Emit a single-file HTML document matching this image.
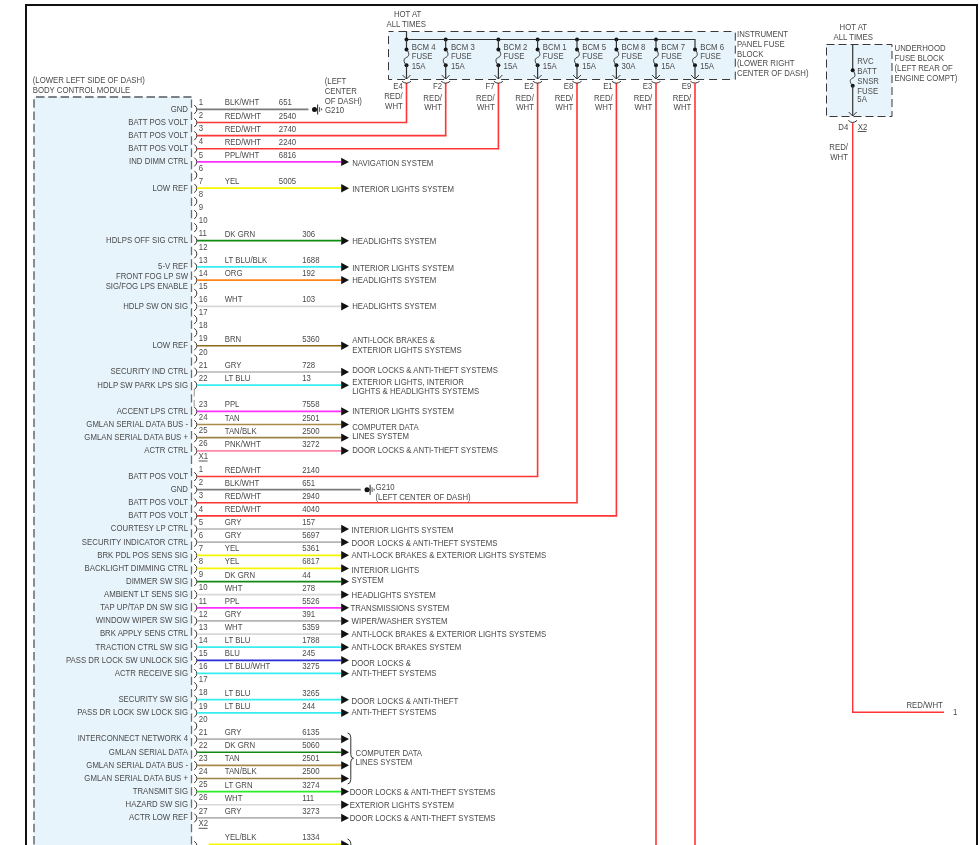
<!DOCTYPE html>
<html><head><meta charset="utf-8"><style>
html,body{margin:0;padding:0;background:#fff;}
body{width:980px;height:845px;overflow:hidden;}
svg{display:block;font-family:"Liberation Sans",sans-serif;will-change:transform;}
</style></head><body>
<svg width="980" height="845" viewBox="0 0 980 845">
<rect x="26" y="5" width="951" height="900" fill="none" stroke="#111" stroke-width="2"/>
<rect x="34" y="97" width="157.5" height="800" fill="#e8f4fc" stroke="none"/>
<line x1="36.00" y1="97.00" x2="191.50" y2="97.00" stroke="#7c8288" stroke-width="1.8" stroke-dasharray="8.5 3.78"/>
<line x1="34.00" y1="99.30" x2="34.00" y2="900.00" stroke="#7c8288" stroke-width="1.8" stroke-dasharray="8.5 3.78"/>
<line x1="191.50" y1="99.50" x2="191.50" y2="900.00" stroke="#6a6e72" stroke-width="1.3" stroke-dasharray="8.3 3.98"/>
<text transform="translate(32.70,83.29) scale(0.951219512195122,1)" fill="#4a4a4a" font-size="8.2">(LOWER LEFT SIDE OF DASH)</text>
<text transform="translate(32.70,92.79) scale(0.951219512195122,1)" fill="#4a4a4a" font-size="8.2">BODY CONTROL MODULE</text>
<path d="M194.3,105.10 Q197.3,107.60 196.8,109.40 Q197.3,111.20 194.3,113.90" stroke="#333" stroke-width="1.0" fill="none"/>
<text transform="translate(198.80,105.10) scale(0.951219512195122,1)" fill="#4a4a4a" font-size="8.2">1</text>
<text transform="translate(188.00,111.79) scale(0.951219512195122,1)" text-anchor="end" fill="#4a4a4a" font-size="8.2">GND</text>
<text transform="translate(224.70,105.40) scale(0.951219512195122,1)" fill="#4a4a4a" font-size="8.2">BLK/WHT</text>
<text transform="translate(278.80,105.40) scale(0.951219512195122,1)" fill="#4a4a4a" font-size="8.2">651</text>
<line x1="196.90" y1="109.40" x2="308.40" y2="109.40" stroke="#7a7a7a" stroke-width="1.6"/>
<circle cx="314.50" cy="109.40" r="2.5" fill="#111"/>
<line x1="314.50" y1="109.40" x2="317.60" y2="109.40" stroke="#222" stroke-width="1.0"/>
<line x1="317.60" y1="104.40" x2="317.60" y2="114.40" stroke="#333" stroke-width="1.1"/>
<line x1="319.60" y1="107.00" x2="319.60" y2="111.80" stroke="#444" stroke-width="0.9"/>
<line x1="321.60" y1="108.50" x2="321.60" y2="110.30" stroke="#444" stroke-width="1.1"/>
<path d="M194.3,118.23 Q197.3,120.73 196.8,122.53 Q197.3,124.33 194.3,127.03" stroke="#333" stroke-width="1.0" fill="none"/>
<text transform="translate(198.80,118.23) scale(0.951219512195122,1)" fill="#4a4a4a" font-size="8.2">2</text>
<text transform="translate(188.00,124.92) scale(0.951219512195122,1)" text-anchor="end" fill="#4a4a4a" font-size="8.2">BATT POS VOLT</text>
<text transform="translate(224.70,118.53) scale(0.951219512195122,1)" fill="#4a4a4a" font-size="8.2">RED/WHT</text>
<text transform="translate(278.80,118.53) scale(0.951219512195122,1)" fill="#4a4a4a" font-size="8.2">2540</text>
<path d="M196.9,122.53 L406.50,122.53 L406.50,83" stroke="#ff3535" stroke-width="1.6" fill="none"/>
<path d="M194.3,131.36 Q197.3,133.86 196.8,135.66 Q197.3,137.46 194.3,140.16" stroke="#333" stroke-width="1.0" fill="none"/>
<text transform="translate(198.80,131.36) scale(0.951219512195122,1)" fill="#4a4a4a" font-size="8.2">3</text>
<text transform="translate(188.00,138.05) scale(0.951219512195122,1)" text-anchor="end" fill="#4a4a4a" font-size="8.2">BATT POS VOLT</text>
<text transform="translate(224.70,131.66) scale(0.951219512195122,1)" fill="#4a4a4a" font-size="8.2">RED/WHT</text>
<text transform="translate(278.80,131.66) scale(0.951219512195122,1)" fill="#4a4a4a" font-size="8.2">2740</text>
<path d="M196.9,135.66 L445.70,135.66 L445.70,83" stroke="#ff3535" stroke-width="1.6" fill="none"/>
<path d="M194.3,144.49 Q197.3,146.99 196.8,148.79 Q197.3,150.59 194.3,153.29" stroke="#333" stroke-width="1.0" fill="none"/>
<text transform="translate(198.80,144.49) scale(0.951219512195122,1)" fill="#4a4a4a" font-size="8.2">4</text>
<text transform="translate(188.00,151.18) scale(0.951219512195122,1)" text-anchor="end" fill="#4a4a4a" font-size="8.2">BATT POS VOLT</text>
<text transform="translate(224.70,144.79) scale(0.951219512195122,1)" fill="#4a4a4a" font-size="8.2">RED/WHT</text>
<text transform="translate(278.80,144.79) scale(0.951219512195122,1)" fill="#4a4a4a" font-size="8.2">2240</text>
<path d="M196.9,148.79 L498.40,148.79 L498.40,83" stroke="#ff3535" stroke-width="1.6" fill="none"/>
<path d="M194.3,157.62 Q197.3,160.12 196.8,161.92 Q197.3,163.72 194.3,166.42" stroke="#333" stroke-width="1.0" fill="none"/>
<text transform="translate(198.80,157.62) scale(0.951219512195122,1)" fill="#4a4a4a" font-size="8.2">5</text>
<text transform="translate(188.00,164.31) scale(0.951219512195122,1)" text-anchor="end" fill="#4a4a4a" font-size="8.2">IND DIMM CTRL</text>
<text transform="translate(224.70,157.92) scale(0.951219512195122,1)" fill="#4a4a4a" font-size="8.2">PPL/WHT</text>
<text transform="translate(278.80,157.92) scale(0.951219512195122,1)" fill="#4a4a4a" font-size="8.2">6816</text>
<line x1="196.90" y1="161.92" x2="341.20" y2="161.92" stroke="#ff30ff" stroke-width="1.7"/>
<path d="M341.20,157.72 L349.00,161.92 L341.20,166.12 Z" fill="#111"/>
<path d="M194.3,170.75 Q197.3,173.25 196.8,175.05 Q197.3,176.85 194.3,179.55" stroke="#333" stroke-width="1.0" fill="none"/>
<text transform="translate(198.80,170.75) scale(0.951219512195122,1)" fill="#4a4a4a" font-size="8.2">6</text>
<path d="M194.3,183.88 Q197.3,186.38 196.8,188.18 Q197.3,189.98 194.3,192.68" stroke="#333" stroke-width="1.0" fill="none"/>
<text transform="translate(198.80,183.88) scale(0.951219512195122,1)" fill="#4a4a4a" font-size="8.2">7</text>
<text transform="translate(188.00,190.57) scale(0.951219512195122,1)" text-anchor="end" fill="#4a4a4a" font-size="8.2">LOW REF</text>
<text transform="translate(224.70,184.18) scale(0.951219512195122,1)" fill="#4a4a4a" font-size="8.2">YEL</text>
<text transform="translate(278.80,184.18) scale(0.951219512195122,1)" fill="#4a4a4a" font-size="8.2">5005</text>
<line x1="196.90" y1="188.18" x2="341.20" y2="188.18" stroke="#f6f600" stroke-width="1.7"/>
<path d="M341.20,183.98 L349.00,188.18 L341.20,192.38 Z" fill="#111"/>
<path d="M194.3,197.01 Q197.3,199.51 196.8,201.31 Q197.3,203.11 194.3,205.81" stroke="#333" stroke-width="1.0" fill="none"/>
<text transform="translate(198.80,197.01) scale(0.951219512195122,1)" fill="#4a4a4a" font-size="8.2">8</text>
<path d="M194.3,210.14 Q197.3,212.64 196.8,214.44 Q197.3,216.24 194.3,218.94" stroke="#333" stroke-width="1.0" fill="none"/>
<text transform="translate(198.80,210.14) scale(0.951219512195122,1)" fill="#4a4a4a" font-size="8.2">9</text>
<path d="M194.3,223.27 Q197.3,225.77 196.8,227.57 Q197.3,229.37 194.3,232.07" stroke="#333" stroke-width="1.0" fill="none"/>
<text transform="translate(198.80,223.27) scale(0.951219512195122,1)" fill="#4a4a4a" font-size="8.2">10</text>
<path d="M194.3,236.40 Q197.3,238.90 196.8,240.70 Q197.3,242.50 194.3,245.20" stroke="#333" stroke-width="1.0" fill="none"/>
<text transform="translate(198.80,236.40) scale(0.951219512195122,1)" fill="#4a4a4a" font-size="8.2">11</text>
<text transform="translate(188.00,243.09) scale(0.951219512195122,1)" text-anchor="end" fill="#4a4a4a" font-size="8.2">HDLPS OFF SIG CTRL</text>
<text transform="translate(224.70,236.70) scale(0.951219512195122,1)" fill="#4a4a4a" font-size="8.2">DK GRN</text>
<text transform="translate(302.20,236.70) scale(0.951219512195122,1)" fill="#4a4a4a" font-size="8.2">306</text>
<line x1="196.90" y1="240.70" x2="341.20" y2="240.70" stroke="#108a10" stroke-width="1.7"/>
<path d="M341.20,236.50 L349.00,240.70 L341.20,244.90 Z" fill="#111"/>
<path d="M194.3,249.53 Q197.3,252.03 196.8,253.83 Q197.3,255.63 194.3,258.33" stroke="#333" stroke-width="1.0" fill="none"/>
<text transform="translate(198.80,249.53) scale(0.951219512195122,1)" fill="#4a4a4a" font-size="8.2">12</text>
<path d="M194.3,262.66 Q197.3,265.16 196.8,266.96 Q197.3,268.76 194.3,271.46" stroke="#333" stroke-width="1.0" fill="none"/>
<text transform="translate(198.80,262.66) scale(0.951219512195122,1)" fill="#4a4a4a" font-size="8.2">13</text>
<text transform="translate(188.00,269.35) scale(0.951219512195122,1)" text-anchor="end" fill="#4a4a4a" font-size="8.2">5-V REF</text>
<text transform="translate(224.70,262.96) scale(0.951219512195122,1)" fill="#4a4a4a" font-size="8.2">LT BLU/BLK</text>
<text transform="translate(302.20,262.96) scale(0.951219512195122,1)" fill="#4a4a4a" font-size="8.2">1688</text>
<line x1="196.90" y1="266.96" x2="341.20" y2="266.96" stroke="#36eef2" stroke-width="1.7"/>
<path d="M341.20,262.76 L349.00,266.96 L341.20,271.16 Z" fill="#111"/>
<path d="M194.3,275.79 Q197.3,278.29 196.8,280.09 Q197.3,281.89 194.3,284.59" stroke="#333" stroke-width="1.0" fill="none"/>
<text transform="translate(198.80,275.79) scale(0.951219512195122,1)" fill="#4a4a4a" font-size="8.2">14</text>
<text transform="translate(224.70,276.09) scale(0.951219512195122,1)" fill="#4a4a4a" font-size="8.2">ORG</text>
<text transform="translate(302.20,276.09) scale(0.951219512195122,1)" fill="#4a4a4a" font-size="8.2">192</text>
<line x1="196.90" y1="280.09" x2="341.20" y2="280.09" stroke="#ff8418" stroke-width="1.7"/>
<path d="M341.20,275.89 L349.00,280.09 L341.20,284.29 Z" fill="#111"/>
<path d="M194.3,288.92 Q197.3,291.42 196.8,293.22 Q197.3,295.02 194.3,297.72" stroke="#333" stroke-width="1.0" fill="none"/>
<text transform="translate(198.80,288.92) scale(0.951219512195122,1)" fill="#4a4a4a" font-size="8.2">15</text>
<path d="M194.3,302.05 Q197.3,304.55 196.8,306.35 Q197.3,308.15 194.3,310.85" stroke="#333" stroke-width="1.0" fill="none"/>
<text transform="translate(198.80,302.05) scale(0.951219512195122,1)" fill="#4a4a4a" font-size="8.2">16</text>
<text transform="translate(188.00,308.74) scale(0.951219512195122,1)" text-anchor="end" fill="#4a4a4a" font-size="8.2">HDLP SW ON SIG</text>
<text transform="translate(224.70,302.35) scale(0.951219512195122,1)" fill="#4a4a4a" font-size="8.2">WHT</text>
<text transform="translate(302.20,302.35) scale(0.951219512195122,1)" fill="#4a4a4a" font-size="8.2">103</text>
<line x1="196.90" y1="306.35" x2="341.20" y2="306.35" stroke="#d8d8d8" stroke-width="1.7"/>
<path d="M341.20,302.15 L349.00,306.35 L341.20,310.55 Z" fill="#111"/>
<path d="M194.3,315.18 Q197.3,317.68 196.8,319.48 Q197.3,321.28 194.3,323.98" stroke="#333" stroke-width="1.0" fill="none"/>
<text transform="translate(198.80,315.18) scale(0.951219512195122,1)" fill="#4a4a4a" font-size="8.2">17</text>
<path d="M194.3,328.31 Q197.3,330.81 196.8,332.61 Q197.3,334.41 194.3,337.11" stroke="#333" stroke-width="1.0" fill="none"/>
<text transform="translate(198.80,328.31) scale(0.951219512195122,1)" fill="#4a4a4a" font-size="8.2">18</text>
<path d="M194.3,341.44 Q197.3,343.94 196.8,345.74 Q197.3,347.54 194.3,350.24" stroke="#333" stroke-width="1.0" fill="none"/>
<text transform="translate(198.80,341.44) scale(0.951219512195122,1)" fill="#4a4a4a" font-size="8.2">19</text>
<text transform="translate(188.00,348.13) scale(0.951219512195122,1)" text-anchor="end" fill="#4a4a4a" font-size="8.2">LOW REF</text>
<text transform="translate(224.70,341.74) scale(0.951219512195122,1)" fill="#4a4a4a" font-size="8.2">BRN</text>
<text transform="translate(302.20,341.74) scale(0.951219512195122,1)" fill="#4a4a4a" font-size="8.2">5360</text>
<line x1="196.90" y1="345.74" x2="341.20" y2="345.74" stroke="#8a6a1a" stroke-width="1.7"/>
<path d="M341.20,341.54 L349.00,345.74 L341.20,349.94 Z" fill="#111"/>
<path d="M194.3,354.57 Q197.3,357.07 196.8,358.87 Q197.3,360.67 194.3,363.37" stroke="#333" stroke-width="1.0" fill="none"/>
<text transform="translate(198.80,354.57) scale(0.951219512195122,1)" fill="#4a4a4a" font-size="8.2">20</text>
<path d="M194.3,367.70 Q197.3,370.20 196.8,372.00 Q197.3,373.80 194.3,376.50" stroke="#333" stroke-width="1.0" fill="none"/>
<text transform="translate(198.80,367.70) scale(0.951219512195122,1)" fill="#4a4a4a" font-size="8.2">21</text>
<text transform="translate(188.00,374.39) scale(0.951219512195122,1)" text-anchor="end" fill="#4a4a4a" font-size="8.2">SECURITY IND CTRL</text>
<text transform="translate(224.70,368.00) scale(0.951219512195122,1)" fill="#4a4a4a" font-size="8.2">GRY</text>
<text transform="translate(302.20,368.00) scale(0.951219512195122,1)" fill="#4a4a4a" font-size="8.2">728</text>
<line x1="196.90" y1="372.00" x2="341.20" y2="372.00" stroke="#b4b4b4" stroke-width="1.7"/>
<path d="M341.20,367.80 L349.00,372.00 L341.20,376.20 Z" fill="#111"/>
<path d="M194.3,380.83 Q197.3,383.33 196.8,385.13 Q197.3,386.93 194.3,389.63" stroke="#333" stroke-width="1.0" fill="none"/>
<text transform="translate(198.80,380.83) scale(0.951219512195122,1)" fill="#4a4a4a" font-size="8.2">22</text>
<text transform="translate(188.00,387.52) scale(0.951219512195122,1)" text-anchor="end" fill="#4a4a4a" font-size="8.2">HDLP SW PARK LPS SIG</text>
<text transform="translate(224.70,381.13) scale(0.951219512195122,1)" fill="#4a4a4a" font-size="8.2">LT BLU</text>
<text transform="translate(302.20,381.13) scale(0.951219512195122,1)" fill="#4a4a4a" font-size="8.2">13</text>
<line x1="196.90" y1="385.13" x2="341.20" y2="385.13" stroke="#36eef2" stroke-width="1.7"/>
<path d="M341.20,380.93 L349.00,385.13 L341.20,389.33 Z" fill="#111"/>
<path d="M194.3,407.09 Q197.3,409.59 196.8,411.39 Q197.3,413.19 194.3,415.89" stroke="#333" stroke-width="1.0" fill="none"/>
<text transform="translate(198.80,407.09) scale(0.951219512195122,1)" fill="#4a4a4a" font-size="8.2">23</text>
<text transform="translate(188.00,413.78) scale(0.951219512195122,1)" text-anchor="end" fill="#4a4a4a" font-size="8.2">ACCENT LPS CTRL</text>
<text transform="translate(224.70,407.39) scale(0.951219512195122,1)" fill="#4a4a4a" font-size="8.2">PPL</text>
<text transform="translate(302.20,407.39) scale(0.951219512195122,1)" fill="#4a4a4a" font-size="8.2">7558</text>
<line x1="196.90" y1="411.39" x2="341.20" y2="411.39" stroke="#ff30ff" stroke-width="1.7"/>
<path d="M341.20,407.19 L349.00,411.39 L341.20,415.59 Z" fill="#111"/>
<path d="M194.3,420.22 Q197.3,422.72 196.8,424.52 Q197.3,426.32 194.3,429.02" stroke="#333" stroke-width="1.0" fill="none"/>
<text transform="translate(198.80,420.22) scale(0.951219512195122,1)" fill="#4a4a4a" font-size="8.2">24</text>
<text transform="translate(188.00,426.91) scale(0.951219512195122,1)" text-anchor="end" fill="#4a4a4a" font-size="8.2">GMLAN SERIAL DATA BUS -</text>
<text transform="translate(224.70,420.52) scale(0.951219512195122,1)" fill="#4a4a4a" font-size="8.2">TAN</text>
<text transform="translate(302.20,420.52) scale(0.951219512195122,1)" fill="#4a4a4a" font-size="8.2">2501</text>
<line x1="196.90" y1="424.52" x2="341.20" y2="424.52" stroke="#a88a4a" stroke-width="1.7"/>
<path d="M341.20,420.32 L349.00,424.52 L341.20,428.72 Z" fill="#111"/>
<path d="M194.3,433.35 Q197.3,435.85 196.8,437.65 Q197.3,439.45 194.3,442.15" stroke="#333" stroke-width="1.0" fill="none"/>
<text transform="translate(198.80,433.35) scale(0.951219512195122,1)" fill="#4a4a4a" font-size="8.2">25</text>
<text transform="translate(188.00,440.04) scale(0.951219512195122,1)" text-anchor="end" fill="#4a4a4a" font-size="8.2">GMLAN SERIAL DATA BUS +</text>
<text transform="translate(224.70,433.65) scale(0.951219512195122,1)" fill="#4a4a4a" font-size="8.2">TAN/BLK</text>
<text transform="translate(302.20,433.65) scale(0.951219512195122,1)" fill="#4a4a4a" font-size="8.2">2500</text>
<line x1="196.90" y1="437.65" x2="341.20" y2="437.65" stroke="#9c8248" stroke-width="1.7"/>
<path d="M341.20,433.45 L349.00,437.65 L341.20,441.85 Z" fill="#111"/>
<path d="M194.3,446.48 Q197.3,448.98 196.8,450.78 Q197.3,452.58 194.3,455.28" stroke="#333" stroke-width="1.0" fill="none"/>
<text transform="translate(198.80,446.48) scale(0.951219512195122,1)" fill="#4a4a4a" font-size="8.2">26</text>
<text transform="translate(188.00,453.17) scale(0.951219512195122,1)" text-anchor="end" fill="#4a4a4a" font-size="8.2">ACTR CTRL</text>
<text transform="translate(224.70,446.78) scale(0.951219512195122,1)" fill="#4a4a4a" font-size="8.2">PNK/WHT</text>
<text transform="translate(302.20,446.78) scale(0.951219512195122,1)" fill="#4a4a4a" font-size="8.2">3272</text>
<line x1="196.90" y1="450.78" x2="341.20" y2="450.78" stroke="#ff8aa8" stroke-width="1.7"/>
<path d="M341.20,446.58 L349.00,450.78 L341.20,454.98 Z" fill="#111"/>
<text transform="translate(188.00,278.69) scale(0.951219512195122,1)" text-anchor="end" fill="#4a4a4a" font-size="8.2">FRONT FOG LP SW</text>
<text transform="translate(188.00,288.89) scale(0.951219512195122,1)" text-anchor="end" fill="#4a4a4a" font-size="8.2">SIG/FOG LPS ENABLE</text>
<line x1="194.20" y1="389.73" x2="194.20" y2="396.63" stroke="#666" stroke-width="0.7"/>
<line x1="194.20" y1="399.89" x2="194.20" y2="406.79" stroke="#666" stroke-width="0.7"/>
<text transform="translate(198.60,459.09) scale(0.951219512195122,1)" fill="#4a4a4a" font-size="8.2">X1</text>
<line x1="198.60" y1="461.00" x2="207.60" y2="461.00" stroke="#444" stroke-width="0.9"/>
<text transform="translate(352.20,166.01) scale(0.951219512195122,1)" fill="#4a4a4a" font-size="8.2">NAVIGATION SYSTEM</text>
<text transform="translate(352.20,191.87) scale(0.951219512195122,1)" fill="#4a4a4a" font-size="8.2">INTERIOR LIGHTS SYSTEM</text>
<text transform="translate(352.20,243.69) scale(0.951219512195122,1)" fill="#4a4a4a" font-size="8.2">HEADLIGHTS SYSTEM</text>
<text transform="translate(352.20,271.09) scale(0.951219512195122,1)" fill="#4a4a4a" font-size="8.2">INTERIOR LIGHTS SYSTEM</text>
<text transform="translate(352.20,282.89) scale(0.951219512195122,1)" fill="#4a4a4a" font-size="8.2">HEADLIGHTS SYSTEM</text>
<text transform="translate(352.20,308.79) scale(0.951219512195122,1)" fill="#4a4a4a" font-size="8.2">HEADLIGHTS SYSTEM</text>
<text transform="translate(352.20,343.19) scale(0.951219512195122,1)" fill="#4a4a4a" font-size="8.2">ANTI-LOCK BRAKES &amp;</text>
<text transform="translate(352.20,353.29) scale(0.951219512195122,1)" fill="#4a4a4a" font-size="8.2">EXTERIOR LIGHTS SYSTEMS</text>
<text transform="translate(352.20,373.49) scale(0.951219512195122,1)" fill="#4a4a4a" font-size="8.2">DOOR LOCKS &amp; ANTI-THEFT SYSTEMS</text>
<text transform="translate(352.20,384.59) scale(0.951219512195122,1)" fill="#4a4a4a" font-size="8.2">EXTERIOR LIGHTS, INTERIOR</text>
<text transform="translate(352.20,393.99) scale(0.951219512195122,1)" fill="#4a4a4a" font-size="8.2">LIGHTS &amp; HEADLIGHTS SYSTEMS</text>
<text transform="translate(352.20,413.89) scale(0.951219512195122,1)" fill="#4a4a4a" font-size="8.2">INTERIOR LIGHTS SYSTEM</text>
<text transform="translate(352.20,429.99) scale(0.951219512195122,1)" fill="#4a4a4a" font-size="8.2">COMPUTER DATA</text>
<text transform="translate(352.20,439.09) scale(0.951219512195122,1)" fill="#4a4a4a" font-size="8.2">LINES SYSTEM</text>
<text transform="translate(352.20,452.89) scale(0.951219512195122,1)" fill="#4a4a4a" font-size="8.2">DOOR LOCKS &amp; ANTI-THEFT SYSTEMS</text>
<text transform="translate(325.00,112.99) scale(0.951219512195122,1)" fill="#4a4a4a" font-size="8.2">G210</text>
<text transform="translate(324.70,84.39) scale(0.951219512195122,1)" fill="#4a4a4a" font-size="8.2">(LEFT</text>
<text transform="translate(324.70,94.39) scale(0.951219512195122,1)" fill="#4a4a4a" font-size="8.2">CENTER</text>
<text transform="translate(324.70,104.39) scale(0.951219512195122,1)" fill="#4a4a4a" font-size="8.2">OF DASH)</text>
<path d="M194.3,472.20 Q197.3,474.70 196.8,476.50 Q197.3,478.30 194.3,481.00" stroke="#333" stroke-width="1.0" fill="none"/>
<text transform="translate(198.80,472.20) scale(0.951219512195122,1)" fill="#4a4a4a" font-size="8.2">1</text>
<text transform="translate(188.00,478.89) scale(0.951219512195122,1)" text-anchor="end" fill="#4a4a4a" font-size="8.2">BATT POS VOLT</text>
<text transform="translate(224.70,472.50) scale(0.951219512195122,1)" fill="#4a4a4a" font-size="8.2">RED/WHT</text>
<text transform="translate(302.20,472.50) scale(0.951219512195122,1)" fill="#4a4a4a" font-size="8.2">2140</text>
<path d="M196.9,476.50 L537.60,476.50 L537.60,83" stroke="#ff3535" stroke-width="1.6" fill="none"/>
<path d="M194.3,485.33 Q197.3,487.83 196.8,489.63 Q197.3,491.43 194.3,494.13" stroke="#333" stroke-width="1.0" fill="none"/>
<text transform="translate(198.80,485.33) scale(0.951219512195122,1)" fill="#4a4a4a" font-size="8.2">2</text>
<text transform="translate(188.00,492.02) scale(0.951219512195122,1)" text-anchor="end" fill="#4a4a4a" font-size="8.2">GND</text>
<text transform="translate(224.70,485.63) scale(0.951219512195122,1)" fill="#4a4a4a" font-size="8.2">BLK/WHT</text>
<text transform="translate(302.20,485.63) scale(0.951219512195122,1)" fill="#4a4a4a" font-size="8.2">651</text>
<line x1="196.90" y1="489.63" x2="360.80" y2="489.63" stroke="#7a7a7a" stroke-width="1.6"/>
<circle cx="367.00" cy="489.63" r="2.5" fill="#111"/>
<line x1="367.00" y1="489.63" x2="370.10" y2="489.63" stroke="#222" stroke-width="1.0"/>
<line x1="370.10" y1="484.63" x2="370.10" y2="494.63" stroke="#333" stroke-width="1.1"/>
<line x1="372.10" y1="487.23" x2="372.10" y2="492.03" stroke="#444" stroke-width="0.9"/>
<line x1="374.10" y1="488.73" x2="374.10" y2="490.53" stroke="#444" stroke-width="1.1"/>
<path d="M194.3,498.46 Q197.3,500.96 196.8,502.76 Q197.3,504.56 194.3,507.26" stroke="#333" stroke-width="1.0" fill="none"/>
<text transform="translate(198.80,498.46) scale(0.951219512195122,1)" fill="#4a4a4a" font-size="8.2">3</text>
<text transform="translate(188.00,505.15) scale(0.951219512195122,1)" text-anchor="end" fill="#4a4a4a" font-size="8.2">BATT POS VOLT</text>
<text transform="translate(224.70,498.76) scale(0.951219512195122,1)" fill="#4a4a4a" font-size="8.2">RED/WHT</text>
<text transform="translate(302.20,498.76) scale(0.951219512195122,1)" fill="#4a4a4a" font-size="8.2">2940</text>
<path d="M196.9,502.76 L577.00,502.76 L577.00,83" stroke="#ff3535" stroke-width="1.6" fill="none"/>
<path d="M194.3,511.59 Q197.3,514.09 196.8,515.89 Q197.3,517.69 194.3,520.39" stroke="#333" stroke-width="1.0" fill="none"/>
<text transform="translate(198.80,511.59) scale(0.951219512195122,1)" fill="#4a4a4a" font-size="8.2">4</text>
<text transform="translate(188.00,518.28) scale(0.951219512195122,1)" text-anchor="end" fill="#4a4a4a" font-size="8.2">BATT POS VOLT</text>
<text transform="translate(224.70,511.89) scale(0.951219512195122,1)" fill="#4a4a4a" font-size="8.2">RED/WHT</text>
<text transform="translate(302.20,511.89) scale(0.951219512195122,1)" fill="#4a4a4a" font-size="8.2">4040</text>
<path d="M196.9,515.89 L616.40,515.89 L616.40,83" stroke="#ff3535" stroke-width="1.6" fill="none"/>
<path d="M194.3,524.72 Q197.3,527.22 196.8,529.02 Q197.3,530.82 194.3,533.52" stroke="#333" stroke-width="1.0" fill="none"/>
<text transform="translate(198.80,524.72) scale(0.951219512195122,1)" fill="#4a4a4a" font-size="8.2">5</text>
<text transform="translate(188.00,531.41) scale(0.951219512195122,1)" text-anchor="end" fill="#4a4a4a" font-size="8.2">COURTESY LP CTRL</text>
<text transform="translate(224.70,525.02) scale(0.951219512195122,1)" fill="#4a4a4a" font-size="8.2">GRY</text>
<text transform="translate(302.20,525.02) scale(0.951219512195122,1)" fill="#4a4a4a" font-size="8.2">157</text>
<line x1="196.90" y1="529.02" x2="341.20" y2="529.02" stroke="#b4b4b4" stroke-width="1.7"/>
<path d="M341.20,524.82 L349.00,529.02 L341.20,533.22 Z" fill="#111"/>
<path d="M194.3,537.85 Q197.3,540.35 196.8,542.15 Q197.3,543.95 194.3,546.65" stroke="#333" stroke-width="1.0" fill="none"/>
<text transform="translate(198.80,537.85) scale(0.951219512195122,1)" fill="#4a4a4a" font-size="8.2">6</text>
<text transform="translate(188.00,544.54) scale(0.951219512195122,1)" text-anchor="end" fill="#4a4a4a" font-size="8.2">SECURITY INDICATOR CTRL</text>
<text transform="translate(224.70,538.15) scale(0.951219512195122,1)" fill="#4a4a4a" font-size="8.2">GRY</text>
<text transform="translate(302.20,538.15) scale(0.951219512195122,1)" fill="#4a4a4a" font-size="8.2">5697</text>
<line x1="196.90" y1="542.15" x2="341.20" y2="542.15" stroke="#b4b4b4" stroke-width="1.7"/>
<path d="M341.20,537.95 L349.00,542.15 L341.20,546.35 Z" fill="#111"/>
<path d="M194.3,550.98 Q197.3,553.48 196.8,555.28 Q197.3,557.08 194.3,559.78" stroke="#333" stroke-width="1.0" fill="none"/>
<text transform="translate(198.80,550.98) scale(0.951219512195122,1)" fill="#4a4a4a" font-size="8.2">7</text>
<text transform="translate(188.00,557.67) scale(0.951219512195122,1)" text-anchor="end" fill="#4a4a4a" font-size="8.2">BRK PDL POS SENS SIG</text>
<text transform="translate(224.70,551.28) scale(0.951219512195122,1)" fill="#4a4a4a" font-size="8.2">YEL</text>
<text transform="translate(302.20,551.28) scale(0.951219512195122,1)" fill="#4a4a4a" font-size="8.2">5361</text>
<line x1="196.90" y1="555.28" x2="341.20" y2="555.28" stroke="#f6f600" stroke-width="1.7"/>
<path d="M341.20,551.08 L349.00,555.28 L341.20,559.48 Z" fill="#111"/>
<path d="M194.3,564.11 Q197.3,566.61 196.8,568.41 Q197.3,570.21 194.3,572.91" stroke="#333" stroke-width="1.0" fill="none"/>
<text transform="translate(198.80,564.11) scale(0.951219512195122,1)" fill="#4a4a4a" font-size="8.2">8</text>
<text transform="translate(188.00,570.80) scale(0.951219512195122,1)" text-anchor="end" fill="#4a4a4a" font-size="8.2">BACKLIGHT DIMMING CTRL</text>
<text transform="translate(224.70,564.41) scale(0.951219512195122,1)" fill="#4a4a4a" font-size="8.2">YEL</text>
<text transform="translate(302.20,564.41) scale(0.951219512195122,1)" fill="#4a4a4a" font-size="8.2">6817</text>
<line x1="196.90" y1="568.41" x2="341.20" y2="568.41" stroke="#f6f600" stroke-width="1.7"/>
<path d="M341.20,564.21 L349.00,568.41 L341.20,572.61 Z" fill="#111"/>
<path d="M194.3,577.24 Q197.3,579.74 196.8,581.54 Q197.3,583.34 194.3,586.04" stroke="#333" stroke-width="1.0" fill="none"/>
<text transform="translate(198.80,577.24) scale(0.951219512195122,1)" fill="#4a4a4a" font-size="8.2">9</text>
<text transform="translate(188.00,583.93) scale(0.951219512195122,1)" text-anchor="end" fill="#4a4a4a" font-size="8.2">DIMMER SW SIG</text>
<text transform="translate(224.70,577.54) scale(0.951219512195122,1)" fill="#4a4a4a" font-size="8.2">DK GRN</text>
<text transform="translate(302.20,577.54) scale(0.951219512195122,1)" fill="#4a4a4a" font-size="8.2">44</text>
<line x1="196.90" y1="581.54" x2="341.20" y2="581.54" stroke="#108a10" stroke-width="1.7"/>
<path d="M341.20,577.34 L349.00,581.54 L341.20,585.74 Z" fill="#111"/>
<path d="M194.3,590.37 Q197.3,592.87 196.8,594.67 Q197.3,596.47 194.3,599.17" stroke="#333" stroke-width="1.0" fill="none"/>
<text transform="translate(198.80,590.37) scale(0.951219512195122,1)" fill="#4a4a4a" font-size="8.2">10</text>
<text transform="translate(188.00,597.06) scale(0.951219512195122,1)" text-anchor="end" fill="#4a4a4a" font-size="8.2">AMBIENT LT SENS SIG</text>
<text transform="translate(224.70,590.67) scale(0.951219512195122,1)" fill="#4a4a4a" font-size="8.2">WHT</text>
<text transform="translate(302.20,590.67) scale(0.951219512195122,1)" fill="#4a4a4a" font-size="8.2">278</text>
<line x1="196.90" y1="594.67" x2="341.20" y2="594.67" stroke="#d8d8d8" stroke-width="1.7"/>
<path d="M341.20,590.47 L349.00,594.67 L341.20,598.87 Z" fill="#111"/>
<path d="M194.3,603.50 Q197.3,606.00 196.8,607.80 Q197.3,609.60 194.3,612.30" stroke="#333" stroke-width="1.0" fill="none"/>
<text transform="translate(198.80,603.50) scale(0.951219512195122,1)" fill="#4a4a4a" font-size="8.2">11</text>
<text transform="translate(188.00,610.19) scale(0.951219512195122,1)" text-anchor="end" fill="#4a4a4a" font-size="8.2">TAP UP/TAP DN SW SIG</text>
<text transform="translate(224.70,603.80) scale(0.951219512195122,1)" fill="#4a4a4a" font-size="8.2">PPL</text>
<text transform="translate(302.20,603.80) scale(0.951219512195122,1)" fill="#4a4a4a" font-size="8.2">5526</text>
<line x1="196.90" y1="607.80" x2="341.20" y2="607.80" stroke="#ff30ff" stroke-width="1.7"/>
<path d="M341.20,603.60 L349.00,607.80 L341.20,612.00 Z" fill="#111"/>
<path d="M194.3,616.63 Q197.3,619.13 196.8,620.93 Q197.3,622.73 194.3,625.43" stroke="#333" stroke-width="1.0" fill="none"/>
<text transform="translate(198.80,616.63) scale(0.951219512195122,1)" fill="#4a4a4a" font-size="8.2">12</text>
<text transform="translate(188.00,623.32) scale(0.951219512195122,1)" text-anchor="end" fill="#4a4a4a" font-size="8.2">WINDOW WIPER SW SIG</text>
<text transform="translate(224.70,616.93) scale(0.951219512195122,1)" fill="#4a4a4a" font-size="8.2">GRY</text>
<text transform="translate(302.20,616.93) scale(0.951219512195122,1)" fill="#4a4a4a" font-size="8.2">391</text>
<line x1="196.90" y1="620.93" x2="341.20" y2="620.93" stroke="#b4b4b4" stroke-width="1.7"/>
<path d="M341.20,616.73 L349.00,620.93 L341.20,625.13 Z" fill="#111"/>
<path d="M194.3,629.76 Q197.3,632.26 196.8,634.06 Q197.3,635.86 194.3,638.56" stroke="#333" stroke-width="1.0" fill="none"/>
<text transform="translate(198.80,629.76) scale(0.951219512195122,1)" fill="#4a4a4a" font-size="8.2">13</text>
<text transform="translate(188.00,636.45) scale(0.951219512195122,1)" text-anchor="end" fill="#4a4a4a" font-size="8.2">BRK APPLY SENS CTRL</text>
<text transform="translate(224.70,630.06) scale(0.951219512195122,1)" fill="#4a4a4a" font-size="8.2">WHT</text>
<text transform="translate(302.20,630.06) scale(0.951219512195122,1)" fill="#4a4a4a" font-size="8.2">5359</text>
<line x1="196.90" y1="634.06" x2="341.20" y2="634.06" stroke="#d8d8d8" stroke-width="1.7"/>
<path d="M341.20,629.86 L349.00,634.06 L341.20,638.26 Z" fill="#111"/>
<path d="M194.3,642.89 Q197.3,645.39 196.8,647.19 Q197.3,648.99 194.3,651.69" stroke="#333" stroke-width="1.0" fill="none"/>
<text transform="translate(198.80,642.89) scale(0.951219512195122,1)" fill="#4a4a4a" font-size="8.2">14</text>
<text transform="translate(188.00,649.58) scale(0.951219512195122,1)" text-anchor="end" fill="#4a4a4a" font-size="8.2">TRACTION CTRL SW SIG</text>
<text transform="translate(224.70,643.19) scale(0.951219512195122,1)" fill="#4a4a4a" font-size="8.2">LT BLU</text>
<text transform="translate(302.20,643.19) scale(0.951219512195122,1)" fill="#4a4a4a" font-size="8.2">1788</text>
<line x1="196.90" y1="647.19" x2="341.20" y2="647.19" stroke="#36eef2" stroke-width="1.7"/>
<path d="M341.20,642.99 L349.00,647.19 L341.20,651.39 Z" fill="#111"/>
<path d="M194.3,656.02 Q197.3,658.52 196.8,660.32 Q197.3,662.12 194.3,664.82" stroke="#333" stroke-width="1.0" fill="none"/>
<text transform="translate(198.80,656.02) scale(0.951219512195122,1)" fill="#4a4a4a" font-size="8.2">15</text>
<text transform="translate(188.00,662.71) scale(0.951219512195122,1)" text-anchor="end" fill="#4a4a4a" font-size="8.2">PASS DR LOCK SW UNLOCK SIG</text>
<text transform="translate(224.70,656.32) scale(0.951219512195122,1)" fill="#4a4a4a" font-size="8.2">BLU</text>
<text transform="translate(302.20,656.32) scale(0.951219512195122,1)" fill="#4a4a4a" font-size="8.2">245</text>
<line x1="196.90" y1="660.32" x2="341.20" y2="660.32" stroke="#2a2ad8" stroke-width="1.7"/>
<path d="M341.20,656.12 L349.00,660.32 L341.20,664.52 Z" fill="#111"/>
<path d="M194.3,669.15 Q197.3,671.65 196.8,673.45 Q197.3,675.25 194.3,677.95" stroke="#333" stroke-width="1.0" fill="none"/>
<text transform="translate(198.80,669.15) scale(0.951219512195122,1)" fill="#4a4a4a" font-size="8.2">16</text>
<text transform="translate(188.00,675.84) scale(0.951219512195122,1)" text-anchor="end" fill="#4a4a4a" font-size="8.2">ACTR RECEIVE SIG</text>
<text transform="translate(224.70,669.45) scale(0.951219512195122,1)" fill="#4a4a4a" font-size="8.2">LT BLU/WHT</text>
<text transform="translate(302.20,669.45) scale(0.951219512195122,1)" fill="#4a4a4a" font-size="8.2">3275</text>
<line x1="196.90" y1="673.45" x2="341.20" y2="673.45" stroke="#36eef2" stroke-width="1.7"/>
<path d="M341.20,669.25 L349.00,673.45 L341.20,677.65 Z" fill="#111"/>
<path d="M194.3,682.28 Q197.3,684.78 196.8,686.58 Q197.3,688.38 194.3,691.08" stroke="#333" stroke-width="1.0" fill="none"/>
<text transform="translate(198.80,682.28) scale(0.951219512195122,1)" fill="#4a4a4a" font-size="8.2">17</text>
<path d="M194.3,695.41 Q197.3,697.91 196.8,699.71 Q197.3,701.51 194.3,704.21" stroke="#333" stroke-width="1.0" fill="none"/>
<text transform="translate(198.80,695.41) scale(0.951219512195122,1)" fill="#4a4a4a" font-size="8.2">18</text>
<text transform="translate(188.00,702.10) scale(0.951219512195122,1)" text-anchor="end" fill="#4a4a4a" font-size="8.2">SECURITY SW SIG</text>
<text transform="translate(224.70,695.71) scale(0.951219512195122,1)" fill="#4a4a4a" font-size="8.2">LT BLU</text>
<text transform="translate(302.20,695.71) scale(0.951219512195122,1)" fill="#4a4a4a" font-size="8.2">3265</text>
<line x1="196.90" y1="699.71" x2="341.20" y2="699.71" stroke="#36eef2" stroke-width="1.7"/>
<path d="M341.20,695.51 L349.00,699.71 L341.20,703.91 Z" fill="#111"/>
<path d="M194.3,708.54 Q197.3,711.04 196.8,712.84 Q197.3,714.64 194.3,717.34" stroke="#333" stroke-width="1.0" fill="none"/>
<text transform="translate(198.80,708.54) scale(0.951219512195122,1)" fill="#4a4a4a" font-size="8.2">19</text>
<text transform="translate(188.00,715.23) scale(0.951219512195122,1)" text-anchor="end" fill="#4a4a4a" font-size="8.2">PASS DR LOCK SW LOCK SIG</text>
<text transform="translate(224.70,708.84) scale(0.951219512195122,1)" fill="#4a4a4a" font-size="8.2">LT BLU</text>
<text transform="translate(302.20,708.84) scale(0.951219512195122,1)" fill="#4a4a4a" font-size="8.2">244</text>
<line x1="196.90" y1="712.84" x2="341.20" y2="712.84" stroke="#36eef2" stroke-width="1.7"/>
<path d="M341.20,708.64 L349.00,712.84 L341.20,717.04 Z" fill="#111"/>
<path d="M194.3,721.67 Q197.3,724.17 196.8,725.97 Q197.3,727.77 194.3,730.47" stroke="#333" stroke-width="1.0" fill="none"/>
<text transform="translate(198.80,721.67) scale(0.951219512195122,1)" fill="#4a4a4a" font-size="8.2">20</text>
<path d="M194.3,734.80 Q197.3,737.30 196.8,739.10 Q197.3,740.90 194.3,743.60" stroke="#333" stroke-width="1.0" fill="none"/>
<text transform="translate(198.80,734.80) scale(0.951219512195122,1)" fill="#4a4a4a" font-size="8.2">21</text>
<text transform="translate(188.00,741.49) scale(0.951219512195122,1)" text-anchor="end" fill="#4a4a4a" font-size="8.2">INTERCONNECT NETWORK 4</text>
<text transform="translate(224.70,735.10) scale(0.951219512195122,1)" fill="#4a4a4a" font-size="8.2">GRY</text>
<text transform="translate(302.20,735.10) scale(0.951219512195122,1)" fill="#4a4a4a" font-size="8.2">6135</text>
<line x1="196.90" y1="739.10" x2="341.20" y2="739.10" stroke="#b4b4b4" stroke-width="1.7"/>
<path d="M341.20,734.90 L349.00,739.10 L341.20,743.30 Z" fill="#111"/>
<path d="M194.3,747.93 Q197.3,750.43 196.8,752.23 Q197.3,754.03 194.3,756.73" stroke="#333" stroke-width="1.0" fill="none"/>
<text transform="translate(198.80,747.93) scale(0.951219512195122,1)" fill="#4a4a4a" font-size="8.2">22</text>
<text transform="translate(188.00,754.62) scale(0.951219512195122,1)" text-anchor="end" fill="#4a4a4a" font-size="8.2">GMLAN SERIAL DATA</text>
<text transform="translate(224.70,748.23) scale(0.951219512195122,1)" fill="#4a4a4a" font-size="8.2">DK GRN</text>
<text transform="translate(302.20,748.23) scale(0.951219512195122,1)" fill="#4a4a4a" font-size="8.2">5060</text>
<line x1="196.90" y1="752.23" x2="341.20" y2="752.23" stroke="#108a10" stroke-width="1.7"/>
<path d="M341.20,748.03 L349.00,752.23 L341.20,756.43 Z" fill="#111"/>
<path d="M194.3,761.06 Q197.3,763.56 196.8,765.36 Q197.3,767.16 194.3,769.86" stroke="#333" stroke-width="1.0" fill="none"/>
<text transform="translate(198.80,761.06) scale(0.951219512195122,1)" fill="#4a4a4a" font-size="8.2">23</text>
<text transform="translate(188.00,767.75) scale(0.951219512195122,1)" text-anchor="end" fill="#4a4a4a" font-size="8.2">GMLAN SERIAL DATA BUS -</text>
<text transform="translate(224.70,761.36) scale(0.951219512195122,1)" fill="#4a4a4a" font-size="8.2">TAN</text>
<text transform="translate(302.20,761.36) scale(0.951219512195122,1)" fill="#4a4a4a" font-size="8.2">2501</text>
<line x1="196.90" y1="765.36" x2="341.20" y2="765.36" stroke="#a88a4a" stroke-width="1.7"/>
<path d="M341.20,761.16 L349.00,765.36 L341.20,769.56 Z" fill="#111"/>
<path d="M194.3,774.19 Q197.3,776.69 196.8,778.49 Q197.3,780.29 194.3,782.99" stroke="#333" stroke-width="1.0" fill="none"/>
<text transform="translate(198.80,774.19) scale(0.951219512195122,1)" fill="#4a4a4a" font-size="8.2">24</text>
<text transform="translate(188.00,780.88) scale(0.951219512195122,1)" text-anchor="end" fill="#4a4a4a" font-size="8.2">GMLAN SERIAL DATA BUS +</text>
<text transform="translate(224.70,774.49) scale(0.951219512195122,1)" fill="#4a4a4a" font-size="8.2">TAN/BLK</text>
<text transform="translate(302.20,774.49) scale(0.951219512195122,1)" fill="#4a4a4a" font-size="8.2">2500</text>
<line x1="196.90" y1="778.49" x2="341.20" y2="778.49" stroke="#9c8248" stroke-width="1.7"/>
<path d="M341.20,774.29 L349.00,778.49 L341.20,782.69 Z" fill="#111"/>
<path d="M194.3,787.32 Q197.3,789.82 196.8,791.62 Q197.3,793.42 194.3,796.12" stroke="#333" stroke-width="1.0" fill="none"/>
<text transform="translate(198.80,787.32) scale(0.951219512195122,1)" fill="#4a4a4a" font-size="8.2">25</text>
<text transform="translate(188.00,794.01) scale(0.951219512195122,1)" text-anchor="end" fill="#4a4a4a" font-size="8.2">TRANSMIT SIG</text>
<text transform="translate(224.70,787.62) scale(0.951219512195122,1)" fill="#4a4a4a" font-size="8.2">LT GRN</text>
<text transform="translate(302.20,787.62) scale(0.951219512195122,1)" fill="#4a4a4a" font-size="8.2">3274</text>
<line x1="196.90" y1="791.62" x2="341.20" y2="791.62" stroke="#28ee28" stroke-width="1.7"/>
<path d="M341.20,787.42 L349.00,791.62 L341.20,795.82 Z" fill="#111"/>
<path d="M194.3,800.45 Q197.3,802.95 196.8,804.75 Q197.3,806.55 194.3,809.25" stroke="#333" stroke-width="1.0" fill="none"/>
<text transform="translate(198.80,800.45) scale(0.951219512195122,1)" fill="#4a4a4a" font-size="8.2">26</text>
<text transform="translate(188.00,807.14) scale(0.951219512195122,1)" text-anchor="end" fill="#4a4a4a" font-size="8.2">HAZARD SW SIG</text>
<text transform="translate(224.70,800.75) scale(0.951219512195122,1)" fill="#4a4a4a" font-size="8.2">WHT</text>
<text transform="translate(302.20,800.75) scale(0.951219512195122,1)" fill="#4a4a4a" font-size="8.2">111</text>
<line x1="196.90" y1="804.75" x2="341.20" y2="804.75" stroke="#d8d8d8" stroke-width="1.7"/>
<path d="M341.20,800.55 L349.00,804.75 L341.20,808.95 Z" fill="#111"/>
<path d="M194.3,813.58 Q197.3,816.08 196.8,817.88 Q197.3,819.68 194.3,822.38" stroke="#333" stroke-width="1.0" fill="none"/>
<text transform="translate(198.80,813.58) scale(0.951219512195122,1)" fill="#4a4a4a" font-size="8.2">27</text>
<text transform="translate(188.00,820.27) scale(0.951219512195122,1)" text-anchor="end" fill="#4a4a4a" font-size="8.2">ACTR LOW REF</text>
<text transform="translate(224.70,813.88) scale(0.951219512195122,1)" fill="#4a4a4a" font-size="8.2">GRY</text>
<text transform="translate(302.20,813.88) scale(0.951219512195122,1)" fill="#4a4a4a" font-size="8.2">3273</text>
<line x1="196.90" y1="817.88" x2="341.20" y2="817.88" stroke="#b4b4b4" stroke-width="1.7"/>
<path d="M341.20,813.68 L349.00,817.88 L341.20,822.08 Z" fill="#111"/>
<text transform="translate(375.50,490.19) scale(0.951219512195122,1)" fill="#4a4a4a" font-size="8.2">G210</text>
<text transform="translate(375.50,499.79) scale(0.951219512195122,1)" fill="#4a4a4a" font-size="8.2">(LEFT CENTER OF DASH)</text>
<text transform="translate(198.60,826.19) scale(0.951219512195122,1)" fill="#4a4a4a" font-size="8.2">X2</text>
<line x1="198.60" y1="828.30" x2="207.60" y2="828.30" stroke="#444" stroke-width="0.9"/>
<text transform="translate(351.60,532.79) scale(0.951219512195122,1)" fill="#4a4a4a" font-size="8.2">INTERIOR LIGHTS SYSTEM</text>
<text transform="translate(351.60,545.69) scale(0.951219512195122,1)" fill="#4a4a4a" font-size="8.2">DOOR LOCKS &amp; ANTI-THEFT SYSTEMS</text>
<text transform="translate(351.60,558.09) scale(0.951219512195122,1)" fill="#4a4a4a" font-size="8.2">ANTI-LOCK BRAKES &amp; EXTERIOR LIGHTS SYSTEMS</text>
<text transform="translate(351.60,573.19) scale(0.951219512195122,1)" fill="#4a4a4a" font-size="8.2">INTERIOR LIGHTS</text>
<text transform="translate(351.60,582.99) scale(0.951219512195122,1)" fill="#4a4a4a" font-size="8.2">SYSTEM</text>
<text transform="translate(351.60,597.79) scale(0.951219512195122,1)" fill="#4a4a4a" font-size="8.2">HEADLIGHTS SYSTEM</text>
<text transform="translate(350.40,610.99) scale(0.951219512195122,1)" fill="#4a4a4a" font-size="8.2">TRANSMISSIONS SYSTEM</text>
<text transform="translate(351.60,624.19) scale(0.951219512195122,1)" fill="#4a4a4a" font-size="8.2">WIPER/WASHER SYSTEM</text>
<text transform="translate(351.60,636.99) scale(0.951219512195122,1)" fill="#4a4a4a" font-size="8.2">ANTI-LOCK BRAKES &amp; EXTERIOR LIGHTS SYSTEMS</text>
<text transform="translate(351.60,649.89) scale(0.951219512195122,1)" fill="#4a4a4a" font-size="8.2">ANTI-LOCK BRAKES SYSTEM</text>
<text transform="translate(351.60,665.59) scale(0.951219512195122,1)" fill="#4a4a4a" font-size="8.2">DOOR LOCKS &amp;</text>
<text transform="translate(351.60,676.19) scale(0.951219512195122,1)" fill="#4a4a4a" font-size="8.2">ANTI-THEFT SYSTEMS</text>
<text transform="translate(351.60,704.49) scale(0.951219512195122,1)" fill="#4a4a4a" font-size="8.2">DOOR LOCKS &amp; ANTI-THEFT</text>
<text transform="translate(351.60,714.69) scale(0.951219512195122,1)" fill="#4a4a4a" font-size="8.2">ANTI-THEFT SYSTEMS</text>
<path d="M347.6,733 Q350.8,733.5 350.8,737.5 L350.8,754.5 Q350.8,758 353.6,758.3 Q350.8,758.6 350.8,762 L350.8,779.5 Q350.8,783.5 347.6,784" stroke="#333" stroke-width="1.0" fill="none"/>
<text transform="translate(355.60,756.29) scale(0.951219512195122,1)" fill="#4a4a4a" font-size="8.2">COMPUTER DATA</text>
<text transform="translate(355.60,765.19) scale(0.951219512195122,1)" fill="#4a4a4a" font-size="8.2">LINES SYSTEM</text>
<text transform="translate(349.70,795.09) scale(0.951219512195122,1)" fill="#4a4a4a" font-size="8.2">DOOR LOCKS &amp; ANTI-THEFT SYSTEMS</text>
<text transform="translate(349.70,807.99) scale(0.951219512195122,1)" fill="#4a4a4a" font-size="8.2">EXTERIOR LIGHTS SYSTEM</text>
<text transform="translate(349.70,820.79) scale(0.951219512195122,1)" fill="#4a4a4a" font-size="8.2">DOOR LOCKS &amp; ANTI-THEFT SYSTEMS</text>
<text transform="translate(224.70,839.79) scale(0.951219512195122,1)" fill="#4a4a4a" font-size="8.2">YEL/BLK</text>
<text transform="translate(302.20,839.79) scale(0.951219512195122,1)" fill="#4a4a4a" font-size="8.2">1334</text>
<path d="M194.3,841.20 Q197.3,843.70 196.8,845.50 Q197.3,847.30 194.3,850.00" stroke="#333" stroke-width="1.0" fill="none"/>
<line x1="208.60" y1="844.50" x2="341.20" y2="844.50" stroke="#f6f600" stroke-width="1.8"/>
<path d="M341.20,840.30 L349.00,844.50 L341.20,848.70 Z" fill="#111"/>
<path d="M347.5,839 Q351,840 351,846" stroke="#333" stroke-width="1.0" fill="none"/>
<rect x="388.5" y="31.5" width="346.8" height="48" fill="#e8f4fc" stroke="#383838" stroke-width="1.0" stroke-dasharray="8 5" stroke-dashoffset="3"/>
<text transform="translate(393.90,17.29) scale(0.951219512195122,1)" fill="#4a4a4a" font-size="8.2">HOT AT</text>
<text transform="translate(386.50,26.89) scale(0.951219512195122,1)" fill="#4a4a4a" font-size="8.2">ALL TIMES</text>
<text transform="translate(737.00,37.19) scale(0.951219512195122,1)" fill="#4a4a4a" font-size="8.2">INSTRUMENT</text>
<text transform="translate(737.00,46.89) scale(0.951219512195122,1)" fill="#4a4a4a" font-size="8.2">PANEL FUSE</text>
<text transform="translate(737.00,56.59) scale(0.951219512195122,1)" fill="#4a4a4a" font-size="8.2">BLOCK</text>
<text transform="translate(737.00,66.29) scale(0.951219512195122,1)" fill="#4a4a4a" font-size="8.2">(LOWER RIGHT</text>
<text transform="translate(737.00,75.99) scale(0.951219512195122,1)" fill="#4a4a4a" font-size="8.2">CENTER OF DASH)</text>
<line x1="406.50" y1="31.20" x2="406.50" y2="39.50" stroke="#333" stroke-width="1.2"/>
<path d="M406.5,39.5 L695,39.5 L695,49.4" stroke="#333" stroke-width="1.2" fill="none"/>
<circle cx="406.50" cy="39.5" r="2.0" fill="#111"/>
<line x1="406.50" y1="39.50" x2="406.50" y2="49.40" stroke="#333" stroke-width="1.2"/>
<circle cx="406.50" cy="49.40" r="2.0" fill="#111"/>
<circle cx="406.50" cy="65.30" r="2.0" fill="#111"/>
<path d="M406.50,49.40 C410.00,53.38 409.00,56.55 406.50,57.35 C403.00,58.94 403.50,62.12 406.50,65.30" stroke="#333" stroke-width="1.0" fill="none"/>
<line x1="406.50" y1="65.30" x2="406.50" y2="79.00" stroke="#333" stroke-width="1.2"/>
<path d="M402.50,75.00 L406.50,79.00 L410.50,75.00" stroke="#333" stroke-width="1.0" fill="none"/>
<text transform="translate(411.70,49.89) scale(0.951219512195122,1)" fill="#4a4a4a" font-size="8.2">BCM 4</text>
<text transform="translate(411.70,59.29) scale(0.951219512195122,1)" fill="#4a4a4a" font-size="8.2">FUSE</text>
<text transform="translate(411.70,68.59) scale(0.951219512195122,1)" fill="#4a4a4a" font-size="8.2">15A</text>
<path d="M402.00,81.3 Q406.50,85 411.00,81.3" stroke="#333" stroke-width="1.0" fill="none"/>
<text transform="translate(402.80,88.99) scale(0.951219512195122,1)" text-anchor="end" fill="#4a4a4a" font-size="8.2">E4</text>
<text transform="translate(402.80,99.49) scale(0.951219512195122,1)" text-anchor="end" fill="#4a4a4a" font-size="8.2">RED/</text>
<text transform="translate(402.80,108.99) scale(0.951219512195122,1)" text-anchor="end" fill="#4a4a4a" font-size="8.2">WHT</text>
<circle cx="445.70" cy="39.5" r="2.0" fill="#111"/>
<line x1="445.70" y1="39.50" x2="445.70" y2="49.40" stroke="#333" stroke-width="1.2"/>
<circle cx="445.70" cy="49.40" r="2.0" fill="#111"/>
<circle cx="445.70" cy="65.30" r="2.0" fill="#111"/>
<path d="M445.70,49.40 C449.20,53.38 448.20,56.55 445.70,57.35 C442.20,58.94 442.70,62.12 445.70,65.30" stroke="#333" stroke-width="1.0" fill="none"/>
<line x1="445.70" y1="65.30" x2="445.70" y2="79.00" stroke="#333" stroke-width="1.2"/>
<path d="M441.70,75.00 L445.70,79.00 L449.70,75.00" stroke="#333" stroke-width="1.0" fill="none"/>
<text transform="translate(450.90,49.89) scale(0.951219512195122,1)" fill="#4a4a4a" font-size="8.2">BCM 3</text>
<text transform="translate(450.90,59.29) scale(0.951219512195122,1)" fill="#4a4a4a" font-size="8.2">FUSE</text>
<text transform="translate(450.90,68.59) scale(0.951219512195122,1)" fill="#4a4a4a" font-size="8.2">15A</text>
<path d="M441.20,81.3 Q445.70,85 450.20,81.3" stroke="#333" stroke-width="1.0" fill="none"/>
<text transform="translate(442.00,88.99) scale(0.951219512195122,1)" text-anchor="end" fill="#4a4a4a" font-size="8.2">F2</text>
<text transform="translate(442.00,100.99) scale(0.951219512195122,1)" text-anchor="end" fill="#4a4a4a" font-size="8.2">RED/</text>
<text transform="translate(442.00,110.49) scale(0.951219512195122,1)" text-anchor="end" fill="#4a4a4a" font-size="8.2">WHT</text>
<circle cx="498.40" cy="39.5" r="2.0" fill="#111"/>
<line x1="498.40" y1="39.50" x2="498.40" y2="49.40" stroke="#333" stroke-width="1.2"/>
<circle cx="498.40" cy="49.40" r="2.0" fill="#111"/>
<circle cx="498.40" cy="65.30" r="2.0" fill="#111"/>
<path d="M498.40,49.40 C501.90,53.38 500.90,56.55 498.40,57.35 C494.90,58.94 495.40,62.12 498.40,65.30" stroke="#333" stroke-width="1.0" fill="none"/>
<line x1="498.40" y1="65.30" x2="498.40" y2="79.00" stroke="#333" stroke-width="1.2"/>
<path d="M494.40,75.00 L498.40,79.00 L502.40,75.00" stroke="#333" stroke-width="1.0" fill="none"/>
<text transform="translate(503.60,49.89) scale(0.951219512195122,1)" fill="#4a4a4a" font-size="8.2">BCM 2</text>
<text transform="translate(503.60,59.29) scale(0.951219512195122,1)" fill="#4a4a4a" font-size="8.2">FUSE</text>
<text transform="translate(503.60,68.59) scale(0.951219512195122,1)" fill="#4a4a4a" font-size="8.2">15A</text>
<path d="M493.90,81.3 Q498.40,85 502.90,81.3" stroke="#333" stroke-width="1.0" fill="none"/>
<text transform="translate(494.70,88.99) scale(0.951219512195122,1)" text-anchor="end" fill="#4a4a4a" font-size="8.2">F7</text>
<text transform="translate(494.70,100.99) scale(0.951219512195122,1)" text-anchor="end" fill="#4a4a4a" font-size="8.2">RED/</text>
<text transform="translate(494.70,110.49) scale(0.951219512195122,1)" text-anchor="end" fill="#4a4a4a" font-size="8.2">WHT</text>
<circle cx="537.60" cy="39.5" r="2.0" fill="#111"/>
<line x1="537.60" y1="39.50" x2="537.60" y2="49.40" stroke="#333" stroke-width="1.2"/>
<circle cx="537.60" cy="49.40" r="2.0" fill="#111"/>
<circle cx="537.60" cy="65.30" r="2.0" fill="#111"/>
<path d="M537.60,49.40 C541.10,53.38 540.10,56.55 537.60,57.35 C534.10,58.94 534.60,62.12 537.60,65.30" stroke="#333" stroke-width="1.0" fill="none"/>
<line x1="537.60" y1="65.30" x2="537.60" y2="79.00" stroke="#333" stroke-width="1.2"/>
<path d="M533.60,75.00 L537.60,79.00 L541.60,75.00" stroke="#333" stroke-width="1.0" fill="none"/>
<text transform="translate(542.80,49.89) scale(0.951219512195122,1)" fill="#4a4a4a" font-size="8.2">BCM 1</text>
<text transform="translate(542.80,59.29) scale(0.951219512195122,1)" fill="#4a4a4a" font-size="8.2">FUSE</text>
<text transform="translate(542.80,68.59) scale(0.951219512195122,1)" fill="#4a4a4a" font-size="8.2">15A</text>
<path d="M533.10,81.3 Q537.60,85 542.10,81.3" stroke="#333" stroke-width="1.0" fill="none"/>
<text transform="translate(533.90,88.99) scale(0.951219512195122,1)" text-anchor="end" fill="#4a4a4a" font-size="8.2">E2</text>
<text transform="translate(533.90,100.99) scale(0.951219512195122,1)" text-anchor="end" fill="#4a4a4a" font-size="8.2">RED/</text>
<text transform="translate(533.90,110.49) scale(0.951219512195122,1)" text-anchor="end" fill="#4a4a4a" font-size="8.2">WHT</text>
<circle cx="577.00" cy="39.5" r="2.0" fill="#111"/>
<line x1="577.00" y1="39.50" x2="577.00" y2="49.40" stroke="#333" stroke-width="1.2"/>
<circle cx="577.00" cy="49.40" r="2.0" fill="#111"/>
<circle cx="577.00" cy="65.30" r="2.0" fill="#111"/>
<path d="M577.00,49.40 C580.50,53.38 579.50,56.55 577.00,57.35 C573.50,58.94 574.00,62.12 577.00,65.30" stroke="#333" stroke-width="1.0" fill="none"/>
<line x1="577.00" y1="65.30" x2="577.00" y2="79.00" stroke="#333" stroke-width="1.2"/>
<path d="M573.00,75.00 L577.00,79.00 L581.00,75.00" stroke="#333" stroke-width="1.0" fill="none"/>
<text transform="translate(582.20,49.89) scale(0.951219512195122,1)" fill="#4a4a4a" font-size="8.2">BCM 5</text>
<text transform="translate(582.20,59.29) scale(0.951219512195122,1)" fill="#4a4a4a" font-size="8.2">FUSE</text>
<text transform="translate(582.20,68.59) scale(0.951219512195122,1)" fill="#4a4a4a" font-size="8.2">15A</text>
<path d="M572.50,81.3 Q577.00,85 581.50,81.3" stroke="#333" stroke-width="1.0" fill="none"/>
<text transform="translate(573.30,88.99) scale(0.951219512195122,1)" text-anchor="end" fill="#4a4a4a" font-size="8.2">E8</text>
<text transform="translate(573.30,100.99) scale(0.951219512195122,1)" text-anchor="end" fill="#4a4a4a" font-size="8.2">RED/</text>
<text transform="translate(573.30,110.49) scale(0.951219512195122,1)" text-anchor="end" fill="#4a4a4a" font-size="8.2">WHT</text>
<circle cx="616.40" cy="39.5" r="2.0" fill="#111"/>
<line x1="616.40" y1="39.50" x2="616.40" y2="49.40" stroke="#333" stroke-width="1.2"/>
<circle cx="616.40" cy="49.40" r="2.0" fill="#111"/>
<circle cx="616.40" cy="65.30" r="2.0" fill="#111"/>
<path d="M616.40,49.40 C619.90,53.38 618.90,56.55 616.40,57.35 C612.90,58.94 613.40,62.12 616.40,65.30" stroke="#333" stroke-width="1.0" fill="none"/>
<line x1="616.40" y1="65.30" x2="616.40" y2="79.00" stroke="#333" stroke-width="1.2"/>
<path d="M612.40,75.00 L616.40,79.00 L620.40,75.00" stroke="#333" stroke-width="1.0" fill="none"/>
<text transform="translate(621.60,49.89) scale(0.951219512195122,1)" fill="#4a4a4a" font-size="8.2">BCM 8</text>
<text transform="translate(621.60,59.29) scale(0.951219512195122,1)" fill="#4a4a4a" font-size="8.2">FUSE</text>
<text transform="translate(621.60,68.59) scale(0.951219512195122,1)" fill="#4a4a4a" font-size="8.2">30A</text>
<path d="M611.90,81.3 Q616.40,85 620.90,81.3" stroke="#333" stroke-width="1.0" fill="none"/>
<text transform="translate(612.70,88.99) scale(0.951219512195122,1)" text-anchor="end" fill="#4a4a4a" font-size="8.2">E1</text>
<text transform="translate(612.70,100.99) scale(0.951219512195122,1)" text-anchor="end" fill="#4a4a4a" font-size="8.2">RED/</text>
<text transform="translate(612.70,110.49) scale(0.951219512195122,1)" text-anchor="end" fill="#4a4a4a" font-size="8.2">WHT</text>
<circle cx="656.00" cy="39.5" r="2.0" fill="#111"/>
<line x1="656.00" y1="39.50" x2="656.00" y2="49.40" stroke="#333" stroke-width="1.2"/>
<circle cx="656.00" cy="49.40" r="2.0" fill="#111"/>
<circle cx="656.00" cy="65.30" r="2.0" fill="#111"/>
<path d="M656.00,49.40 C659.50,53.38 658.50,56.55 656.00,57.35 C652.50,58.94 653.00,62.12 656.00,65.30" stroke="#333" stroke-width="1.0" fill="none"/>
<line x1="656.00" y1="65.30" x2="656.00" y2="79.00" stroke="#333" stroke-width="1.2"/>
<path d="M652.00,75.00 L656.00,79.00 L660.00,75.00" stroke="#333" stroke-width="1.0" fill="none"/>
<text transform="translate(661.20,49.89) scale(0.951219512195122,1)" fill="#4a4a4a" font-size="8.2">BCM 7</text>
<text transform="translate(661.20,59.29) scale(0.951219512195122,1)" fill="#4a4a4a" font-size="8.2">FUSE</text>
<text transform="translate(661.20,68.59) scale(0.951219512195122,1)" fill="#4a4a4a" font-size="8.2">15A</text>
<path d="M651.50,81.3 Q656.00,85 660.50,81.3" stroke="#333" stroke-width="1.0" fill="none"/>
<text transform="translate(652.30,88.99) scale(0.951219512195122,1)" text-anchor="end" fill="#4a4a4a" font-size="8.2">E3</text>
<text transform="translate(652.30,100.99) scale(0.951219512195122,1)" text-anchor="end" fill="#4a4a4a" font-size="8.2">RED/</text>
<text transform="translate(652.30,110.49) scale(0.951219512195122,1)" text-anchor="end" fill="#4a4a4a" font-size="8.2">WHT</text>
<line x1="656.00" y1="83.00" x2="656.00" y2="900.00" stroke="#ff3535" stroke-width="1.6"/>
<circle cx="695.00" cy="49.40" r="2.0" fill="#111"/>
<circle cx="695.00" cy="65.30" r="2.0" fill="#111"/>
<path d="M695.00,49.40 C698.50,53.38 697.50,56.55 695.00,57.35 C691.50,58.94 692.00,62.12 695.00,65.30" stroke="#333" stroke-width="1.0" fill="none"/>
<line x1="695.00" y1="65.30" x2="695.00" y2="79.00" stroke="#333" stroke-width="1.2"/>
<path d="M691.00,75.00 L695.00,79.00 L699.00,75.00" stroke="#333" stroke-width="1.0" fill="none"/>
<text transform="translate(700.20,49.89) scale(0.951219512195122,1)" fill="#4a4a4a" font-size="8.2">BCM 6</text>
<text transform="translate(700.20,59.29) scale(0.951219512195122,1)" fill="#4a4a4a" font-size="8.2">FUSE</text>
<text transform="translate(700.20,68.59) scale(0.951219512195122,1)" fill="#4a4a4a" font-size="8.2">15A</text>
<path d="M690.50,81.3 Q695.00,85 699.50,81.3" stroke="#333" stroke-width="1.0" fill="none"/>
<text transform="translate(691.30,88.99) scale(0.951219512195122,1)" text-anchor="end" fill="#4a4a4a" font-size="8.2">E9</text>
<text transform="translate(691.30,100.99) scale(0.951219512195122,1)" text-anchor="end" fill="#4a4a4a" font-size="8.2">RED/</text>
<text transform="translate(691.30,110.49) scale(0.951219512195122,1)" text-anchor="end" fill="#4a4a4a" font-size="8.2">WHT</text>
<line x1="695.00" y1="83.00" x2="695.00" y2="900.00" stroke="#ff3535" stroke-width="1.6"/>
<rect x="826.5" y="44.5" width="65.5" height="72" fill="#e8f4fc" stroke="#383838" stroke-width="1.0" stroke-dasharray="8 4"/>
<text transform="translate(853.30,30.09) scale(0.951219512195122,1)" text-anchor="middle" fill="#4a4a4a" font-size="8.2">HOT AT</text>
<text transform="translate(853.30,39.69) scale(0.951219512195122,1)" text-anchor="middle" fill="#4a4a4a" font-size="8.2">ALL TIMES</text>
<text transform="translate(894.50,51.19) scale(0.951219512195122,1)" fill="#4a4a4a" font-size="8.2">UNDERHOOD</text>
<text transform="translate(894.50,61.09) scale(0.951219512195122,1)" fill="#4a4a4a" font-size="8.2">FUSE BLOCK</text>
<text transform="translate(894.50,70.99) scale(0.951219512195122,1)" fill="#4a4a4a" font-size="8.2">(LEFT REAR OF</text>
<text transform="translate(894.50,80.89) scale(0.951219512195122,1)" fill="#4a4a4a" font-size="8.2">ENGINE COMPT)</text>
<line x1="852.70" y1="44.60" x2="852.70" y2="70.30" stroke="#333" stroke-width="1.2"/>
<circle cx="852.70" cy="70.30" r="2.0" fill="#111"/>
<circle cx="852.70" cy="85.80" r="2.0" fill="#111"/>
<path d="M852.70,70.30 C856.20,74.17 855.20,77.27 852.70,78.05 C849.20,79.60 849.70,82.70 852.70,85.80" stroke="#333" stroke-width="1.0" fill="none"/>
<line x1="852.70" y1="85.80" x2="852.70" y2="116.00" stroke="#333" stroke-width="1.2"/>
<path d="M848.70,112.00 L852.70,116.00 L856.70,112.00" stroke="#333" stroke-width="1.0" fill="none"/>
<text transform="translate(857.30,64.09) scale(0.951219512195122,1)" fill="#4a4a4a" font-size="8.2">RVC</text>
<text transform="translate(857.30,74.09) scale(0.951219512195122,1)" fill="#4a4a4a" font-size="8.2">BATT</text>
<text transform="translate(857.30,84.09) scale(0.951219512195122,1)" fill="#4a4a4a" font-size="8.2">SNSR</text>
<text transform="translate(857.30,93.79) scale(0.951219512195122,1)" fill="#4a4a4a" font-size="8.2">FUSE</text>
<text transform="translate(857.30,102.39) scale(0.951219512195122,1)" fill="#4a4a4a" font-size="8.2">5A</text>
<path d="M848.4,120.4 Q852.7,124.6 857.0,120.4" stroke="#333" stroke-width="1.0" fill="none"/>
<text transform="translate(848.30,130.29) scale(0.951219512195122,1)" text-anchor="end" fill="#4a4a4a" font-size="8.2">D4</text>
<text transform="translate(857.70,130.29) scale(0.951219512195122,1)" fill="#4a4a4a" font-size="8.2">X2</text>
<line x1="857.70" y1="131.50" x2="866.50" y2="131.50" stroke="#444" stroke-width="0.9"/>
<text transform="translate(848.00,150.39) scale(0.951219512195122,1)" text-anchor="end" fill="#4a4a4a" font-size="8.2">RED/</text>
<text transform="translate(848.00,159.79) scale(0.951219512195122,1)" text-anchor="end" fill="#4a4a4a" font-size="8.2">WHT</text>
<path d="M852.7,123 L852.7,712.2 L944,712.2" stroke="#ff3535" stroke-width="1.4" fill="none"/>
<text transform="translate(942.80,707.89) scale(0.951219512195122,1)" text-anchor="end" fill="#4a4a4a" font-size="8.2">RED/WHT</text>
<text transform="translate(953.00,715.39) scale(0.951219512195122,1)" fill="#4a4a4a" font-size="8.2">1</text>
</svg>
</body></html>
